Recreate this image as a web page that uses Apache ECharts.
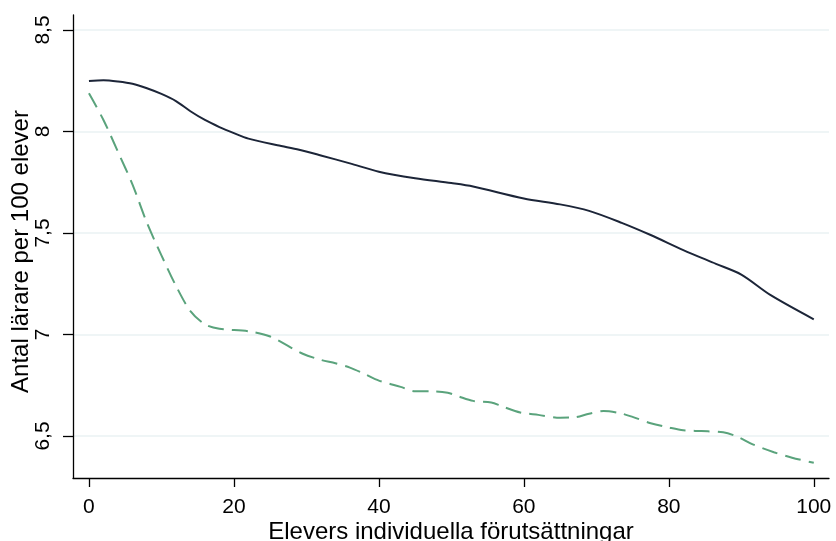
<!DOCTYPE html>
<html>
<head>
<meta charset="utf-8">
<script src="https://cdn.jsdelivr.net/npm/echarts@6/dist/echarts.min.js"></script>
<style>
  html, body { margin: 0; padding: 0; background: #fff; }
  #main { width: 836px; height: 541px; }
</style>
</head>
<body>
<div id="main"></div>
<script>
// solid line
const solidX = [0, 2, 4, 6, 8, 10, 12, 14, 16, 18, 20, 22, 26, 29, 32, 36, 40, 45, 50, 53, 60, 65, 69, 73.5, 77.5, 82, 86.5, 90, 94, 100]
const solidY = [8.249, 8.252, 8.246, 8.235, 8.213, 8.185, 8.15, 8.10, 8.057, 8.022, 7.992, 7.965, 7.932, 7.91, 7.882, 7.843, 7.802, 7.77, 7.746, 7.729, 7.67, 7.641, 7.609, 7.55, 7.49, 7.416, 7.348, 7.295, 7.195, 7.075]

// dashed line
const dashX = [0, 2, 4, 6, 8, 10, 12, 14, 16, 18, 22, 25, 29.5, 32, 34, 36, 38, 40, 43, 45, 47.5, 49.5, 51, 53, 55.5, 57, 59.5, 62, 65, 67, 69, 71, 73.3, 75, 77.5, 80, 82, 84.5, 87.5, 89.5, 91.5, 94.5, 97, 100]
const dashY = [8.188, 8.057, 7.90, 7.74, 7.55, 7.39, 7.24, 7.115, 7.05, 7.028, 7.016, 6.99, 6.905, 6.875, 6.858, 6.837, 6.806, 6.773, 6.742, 6.72, 6.72, 6.713, 6.695, 6.673, 6.665, 6.646, 6.616, 6.604, 6.59, 6.592, 6.61, 6.623, 6.612, 6.594, 6.563, 6.542, 6.528, 6.524, 6.518, 6.496, 6.46, 6.42, 6.393, 6.368]

const xTicks = [0, 20, 40, 60, 80, 100]
const yTicks = [6.5, 7, 7.5, 8, 8.5]

const font = '"Liberation Sans", Arial, sans-serif'

const dom = echarts.init(document.getElementById('main'))
dom.setOption({
  animation: false,
  grid: {
    left: 73,
    right: 7,
    top: 15,
    bottom: 63,
    outerBoundsMode: 'none'
  },
  xAxis: {
    type: 'value',
    min: -2.2,
    max: 102.1,
    name: 'Elevers individuella förutsättningar',
    nameLocation: 'middle',
    nameGap: 42,
    nameMoveOverlap: false,
    nameTextStyle: { color: '#000', fontSize: 24, fontFamily: font },
    axisLine: { show: true, onZero: false, lineStyle: { color: '#000', width: 1.3 } },
    axisTick: { show: true, length: 9, customValues: xTicks, lineStyle: { color: '#000', width: 1.3 } },
    axisLabel: { customValues: xTicks, color: '#000', fontSize: 21, fontFamily: font, margin: 19 },
    splitLine: { show: false }
  },
  yAxis: {
    type: 'value',
    min: 6.293,
    max: 8.574,
    name: 'Antal lärare per 100 elever',
    nameLocation: 'middle',
    nameGap: 40,
    nameMoveOverlap: false,
    nameTextStyle: { color: '#000', fontSize: 24, fontFamily: font, padding: [0, 10, 0, 0] },
    axisLine: { show: true, onZero: false, lineStyle: { color: '#000', width: 1.3 } },
    axisTick: { show: true, length: 10, customValues: yTicks, lineStyle: { color: '#000', width: 1.3 } },
    axisLabel: {
      customValues: yTicks,
      rotate: 90,
      color: '#000',
      fontSize: 21,
      fontFamily: font,
      margin: 19,
      formatter: v => String(v).replace('.', ',')
    },
    splitLine: { show: true, lineStyle: { color: '#eaf2f3', width: 1.5 } }
  },
  series: [
    {
      type: 'line',
      data: solidX.map((x, i) => [x, solidY[i]]),
      smooth: 0.3,
      showSymbol: false,
      lineStyle: { color: '#1c2538', width: 2 }
    },
    {
      type: 'line',
      data: dashX.map((x, i) => [x, dashY[i]]),
      smooth: 0.3,
      showSymbol: false,
      lineStyle: { color: '#5aa37c', width: 2, type: [16, 8] }
    }
  ]
})
</script>
</body>
</html>
